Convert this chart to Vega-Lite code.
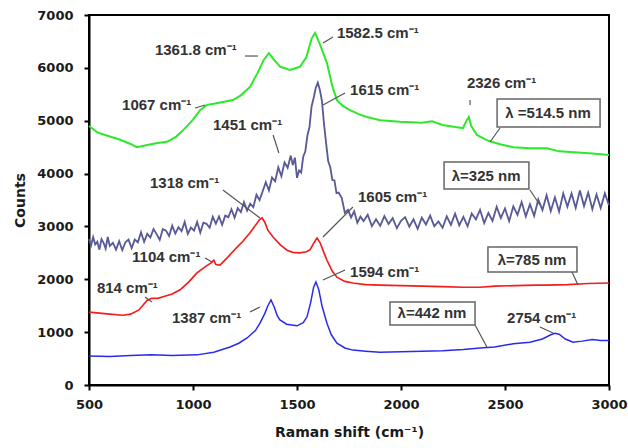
{
  "$schema": "https://vega.github.io/schema/vega-lite/v6.json",
  "width": 520,
  "height": 370,
  "autosize": {"type": "none"},
  "padding": {"left": 89, "top": 15, "right": 19, "bottom": 63},
  "background": "white",
  "config": {
    "view": {"stroke": "black", "strokeWidth": 2},
    "axis": {
      "grid": false,
      "domainColor": "black",
      "domainWidth": 2,
      "tickColor": "black",
      "tickWidth": 2,
      "tickSize": 5,
      "labelFont": "DejaVu Sans",
      "labelFontWeight": "bold",
      "labelFontSize": 13,
      "labelColor": "#1a1a1a",
      "titleFont": "DejaVu Sans",
      "titleFontWeight": "bold",
      "titleFontSize": 14,
      "titleColor": "#1a1a1a"
    }
  },
  "datasets": {
    "spectra": [
      {"shift": 500, "counts": 4900, "series": "514.5"},
      {"shift": 540, "counts": 4780, "series": "514.5"},
      {"shift": 600, "counts": 4700, "series": "514.5"},
      {"shift": 650, "counts": 4640, "series": "514.5"},
      {"shift": 700, "counts": 4560, "series": "514.5"},
      {"shift": 730, "counts": 4500, "series": "514.5"},
      {"shift": 780, "counts": 4540, "series": "514.5"},
      {"shift": 830, "counts": 4580, "series": "514.5"},
      {"shift": 875, "counts": 4600, "series": "514.5"},
      {"shift": 920, "counts": 4700, "series": "514.5"},
      {"shift": 960, "counts": 4850, "series": "514.5"},
      {"shift": 1000, "counts": 5020, "series": "514.5"},
      {"shift": 1034, "counts": 5200, "series": "514.5"},
      {"shift": 1067, "counts": 5300, "series": "514.5"},
      {"shift": 1100, "counts": 5320, "series": "514.5"},
      {"shift": 1150, "counts": 5360, "series": "514.5"},
      {"shift": 1192, "counts": 5390, "series": "514.5"},
      {"shift": 1230, "counts": 5480, "series": "514.5"},
      {"shift": 1274, "counts": 5640, "series": "514.5"},
      {"shift": 1310, "counts": 5900, "series": "514.5"},
      {"shift": 1340, "counts": 6150, "series": "514.5"},
      {"shift": 1365, "counts": 6280, "series": "514.5"},
      {"shift": 1390, "counts": 6150, "series": "514.5"},
      {"shift": 1420, "counts": 6020, "series": "514.5"},
      {"shift": 1466, "counts": 5960, "series": "514.5"},
      {"shift": 1514, "counts": 6020, "series": "514.5"},
      {"shift": 1545, "counts": 6200, "series": "514.5"},
      {"shift": 1570, "counts": 6550, "series": "514.5"},
      {"shift": 1587, "counts": 6660, "series": "514.5"},
      {"shift": 1610, "counts": 6450, "series": "514.5"},
      {"shift": 1644, "counts": 6090, "series": "514.5"},
      {"shift": 1670, "counts": 5650, "series": "514.5"},
      {"shift": 1692, "counts": 5390, "series": "514.5"},
      {"shift": 1720, "counts": 5280, "series": "514.5"},
      {"shift": 1755, "counts": 5200, "series": "514.5"},
      {"shift": 1800, "counts": 5120, "series": "514.5"},
      {"shift": 1836, "counts": 5070, "series": "514.5"},
      {"shift": 1900, "counts": 5010, "series": "514.5"},
      {"shift": 1995, "counts": 4980, "series": "514.5"},
      {"shift": 2100, "counts": 4960, "series": "514.5"},
      {"shift": 2150, "counts": 4990, "series": "514.5"},
      {"shift": 2200, "counts": 4920, "series": "514.5"},
      {"shift": 2260, "counts": 4880, "series": "514.5"},
      {"shift": 2298, "counts": 4860, "series": "514.5"},
      {"shift": 2315, "counts": 5000, "series": "514.5"},
      {"shift": 2326, "counts": 5070, "series": "514.5"},
      {"shift": 2338, "counts": 4900, "series": "514.5"},
      {"shift": 2365, "counts": 4730, "series": "514.5"},
      {"shift": 2420, "counts": 4620, "series": "514.5"},
      {"shift": 2480, "counts": 4550, "series": "514.5"},
      {"shift": 2539, "counts": 4500, "series": "514.5"},
      {"shift": 2620, "counts": 4480, "series": "514.5"},
      {"shift": 2702, "counts": 4480, "series": "514.5"},
      {"shift": 2760, "counts": 4420, "series": "514.5"},
      {"shift": 2850, "counts": 4400, "series": "514.5"},
      {"shift": 2920, "counts": 4380, "series": "514.5"},
      {"shift": 3000, "counts": 4350, "series": "514.5"},

      {"shift": 500, "counts": 2760, "series": "325"},
      {"shift": 510, "counts": 2640, "series": "325"},
      {"shift": 520, "counts": 2800, "series": "325"},
      {"shift": 530, "counts": 2660, "series": "325"},
      {"shift": 540, "counts": 2710, "series": "325"},
      {"shift": 550, "counts": 2560, "series": "325"},
      {"shift": 560, "counts": 2760, "series": "325"},
      {"shift": 570, "counts": 2690, "series": "325"},
      {"shift": 580, "counts": 2580, "series": "325"},
      {"shift": 590, "counts": 2800, "series": "325"},
      {"shift": 600, "counts": 2630, "series": "325"},
      {"shift": 615, "counts": 2690, "series": "325"},
      {"shift": 630, "counts": 2560, "series": "325"},
      {"shift": 645, "counts": 2720, "series": "325"},
      {"shift": 660, "counts": 2550, "series": "325"},
      {"shift": 675, "counts": 2700, "series": "325"},
      {"shift": 690, "counts": 2750, "series": "325"},
      {"shift": 705, "counts": 2590, "series": "325"},
      {"shift": 720, "counts": 2750, "series": "325"},
      {"shift": 735, "counts": 2700, "series": "325"},
      {"shift": 750, "counts": 2890, "series": "325"},
      {"shift": 765, "counts": 2710, "series": "325"},
      {"shift": 780, "counts": 2860, "series": "325"},
      {"shift": 795, "counts": 2790, "series": "325"},
      {"shift": 810, "counts": 2950, "series": "325"},
      {"shift": 825, "counts": 2855, "series": "325"},
      {"shift": 840, "counts": 2745, "series": "325"},
      {"shift": 855, "counts": 2950, "series": "325"},
      {"shift": 870, "counts": 2920, "series": "325"},
      {"shift": 885, "counts": 2820, "series": "325"},
      {"shift": 900, "counts": 3015, "series": "325"},
      {"shift": 915, "counts": 2865, "series": "325"},
      {"shift": 930, "counts": 2985, "series": "325"},
      {"shift": 945, "counts": 2910, "series": "325"},
      {"shift": 960, "counts": 3085, "series": "325"},
      {"shift": 975, "counts": 2860, "series": "325"},
      {"shift": 990, "counts": 2980, "series": "325"},
      {"shift": 1005, "counts": 2920, "series": "325"},
      {"shift": 1020, "counts": 3085, "series": "325"},
      {"shift": 1035, "counts": 2885, "series": "325"},
      {"shift": 1050, "counts": 3070, "series": "325"},
      {"shift": 1065, "counts": 3050, "series": "325"},
      {"shift": 1080, "counts": 2975, "series": "325"},
      {"shift": 1095, "counts": 3185, "series": "325"},
      {"shift": 1110, "counts": 3050, "series": "325"},
      {"shift": 1125, "counts": 3190, "series": "325"},
      {"shift": 1140, "counts": 3030, "series": "325"},
      {"shift": 1155, "counts": 3205, "series": "325"},
      {"shift": 1170, "counts": 3175, "series": "325"},
      {"shift": 1185, "counts": 3325, "series": "325"},
      {"shift": 1200, "counts": 3165, "series": "325"},
      {"shift": 1215, "counts": 3345, "series": "325"},
      {"shift": 1230, "counts": 3270, "series": "325"},
      {"shift": 1245, "counts": 3460, "series": "325"},
      {"shift": 1260, "counts": 3300, "series": "325"},
      {"shift": 1275, "counts": 3430, "series": "325"},
      {"shift": 1290, "counts": 3365, "series": "325"},
      {"shift": 1305, "counts": 3600, "series": "325"},
      {"shift": 1320, "counts": 3500, "series": "325"},
      {"shift": 1335, "counts": 3665, "series": "325"},
      {"shift": 1350, "counts": 3835, "series": "325"},
      {"shift": 1365, "counts": 3680, "series": "325"},
      {"shift": 1380, "counts": 3925, "series": "325"},
      {"shift": 1395, "counts": 3855, "series": "325"},
      {"shift": 1410, "counts": 4120, "series": "325"},
      {"shift": 1425, "counts": 3950, "series": "325"},
      {"shift": 1440, "counts": 4210, "series": "325"},
      {"shift": 1455, "counts": 4110, "series": "325"},
      {"shift": 1470, "counts": 4340, "series": "325"},
      {"shift": 1480, "counts": 4160, "series": "325"},
      {"shift": 1490, "counts": 4300, "series": "325"},
      {"shift": 1500, "counts": 3920, "series": "325"},
      {"shift": 1510, "counts": 4060, "series": "325"},
      {"shift": 1520, "counts": 4020, "series": "325"},
      {"shift": 1530, "counts": 4320, "series": "325"},
      {"shift": 1540, "counts": 4420, "series": "325"},
      {"shift": 1550, "counts": 4720, "series": "325"},
      {"shift": 1560, "counts": 4880, "series": "325"},
      {"shift": 1570, "counts": 5270, "series": "325"},
      {"shift": 1580, "counts": 5430, "series": "325"},
      {"shift": 1590, "counts": 5620, "series": "325"},
      {"shift": 1600, "counts": 5720, "series": "325"},
      {"shift": 1610, "counts": 5580, "series": "325"},
      {"shift": 1620, "counts": 5370, "series": "325"},
      {"shift": 1630, "counts": 4930, "series": "325"},
      {"shift": 1640, "counts": 4570, "series": "325"},
      {"shift": 1650, "counts": 4230, "series": "325"},
      {"shift": 1660, "counts": 4120, "series": "325"},
      {"shift": 1670, "counts": 3880, "series": "325"},
      {"shift": 1680, "counts": 3870, "series": "325"},
      {"shift": 1690, "counts": 3630, "series": "325"},
      {"shift": 1700, "counts": 3640, "series": "325"},
      {"shift": 1715, "counts": 3540, "series": "325"},
      {"shift": 1730, "counts": 3260, "series": "325"},
      {"shift": 1745, "counts": 3315, "series": "325"},
      {"shift": 1760, "counts": 3170, "series": "325"},
      {"shift": 1775, "counts": 3285, "series": "325"},
      {"shift": 1790, "counts": 3070, "series": "325"},
      {"shift": 1805, "counts": 3185, "series": "325"},
      {"shift": 1820, "counts": 3100, "series": "325"},
      {"shift": 1840, "counts": 3220, "series": "325"},
      {"shift": 1860, "counts": 3005, "series": "325"},
      {"shift": 1880, "counts": 3135, "series": "325"},
      {"shift": 1900, "counts": 3010, "series": "325"},
      {"shift": 1920, "counts": 3195, "series": "325"},
      {"shift": 1940, "counts": 3045, "series": "325"},
      {"shift": 1960, "counts": 3155, "series": "325"},
      {"shift": 1980, "counts": 2965, "series": "325"},
      {"shift": 2000, "counts": 3105, "series": "325"},
      {"shift": 2020, "counts": 3175, "series": "325"},
      {"shift": 2040, "counts": 2995, "series": "325"},
      {"shift": 2060, "counts": 3135, "series": "325"},
      {"shift": 2080, "counts": 2955, "series": "325"},
      {"shift": 2100, "counts": 3165, "series": "325"},
      {"shift": 2120, "counts": 3035, "series": "325"},
      {"shift": 2140, "counts": 3205, "series": "325"},
      {"shift": 2160, "counts": 3005, "series": "325"},
      {"shift": 2180, "counts": 3095, "series": "325"},
      {"shift": 2200, "counts": 2975, "series": "325"},
      {"shift": 2220, "counts": 3190, "series": "325"},
      {"shift": 2240, "counts": 3030, "series": "325"},
      {"shift": 2260, "counts": 3240, "series": "325"},
      {"shift": 2280, "counts": 3020, "series": "325"},
      {"shift": 2300, "counts": 3180, "series": "325"},
      {"shift": 2320, "counts": 3005, "series": "325"},
      {"shift": 2340, "counts": 3245, "series": "325"},
      {"shift": 2360, "counts": 3135, "series": "325"},
      {"shift": 2380, "counts": 3315, "series": "325"},
      {"shift": 2400, "counts": 3065, "series": "325"},
      {"shift": 2420, "counts": 3255, "series": "325"},
      {"shift": 2440, "counts": 3105, "series": "325"},
      {"shift": 2460, "counts": 3370, "series": "325"},
      {"shift": 2480, "counts": 3160, "series": "325"},
      {"shift": 2500, "counts": 3340, "series": "325"},
      {"shift": 2520, "counts": 3100, "series": "325"},
      {"shift": 2540, "counts": 3380, "series": "325"},
      {"shift": 2560, "counts": 3220, "series": "325"},
      {"shift": 2580, "counts": 3460, "series": "325"},
      {"shift": 2600, "counts": 3190, "series": "325"},
      {"shift": 2620, "counts": 3420, "series": "325"},
      {"shift": 2640, "counts": 3200, "series": "325"},
      {"shift": 2660, "counts": 3510, "series": "325"},
      {"shift": 2680, "counts": 3310, "series": "325"},
      {"shift": 2700, "counts": 3590, "series": "325"},
      {"shift": 2720, "counts": 3290, "series": "325"},
      {"shift": 2740, "counts": 3550, "series": "325"},
      {"shift": 2760, "counts": 3280, "series": "325"},
      {"shift": 2780, "counts": 3625, "series": "325"},
      {"shift": 2800, "counts": 3375, "series": "325"},
      {"shift": 2820, "counts": 3625, "series": "325"},
      {"shift": 2840, "counts": 3350, "series": "325"},
      {"shift": 2860, "counts": 3680, "series": "325"},
      {"shift": 2880, "counts": 3385, "series": "325"},
      {"shift": 2900, "counts": 3640, "series": "325"},
      {"shift": 2920, "counts": 3325, "series": "325"},
      {"shift": 2940, "counts": 3605, "series": "325"},
      {"shift": 2960, "counts": 3350, "series": "325"},
      {"shift": 2980, "counts": 3625, "series": "325"},
      {"shift": 3000, "counts": 3400, "series": "325"},

      {"shift": 500, "counts": 1380, "series": "785"},
      {"shift": 550, "counts": 1360, "series": "785"},
      {"shift": 600, "counts": 1340, "series": "785"},
      {"shift": 663, "counts": 1320, "series": "785"},
      {"shift": 700, "counts": 1340, "series": "785"},
      {"shift": 740, "counts": 1420, "series": "785"},
      {"shift": 779, "counts": 1600, "series": "785"},
      {"shift": 800, "counts": 1640, "series": "785"},
      {"shift": 830, "counts": 1640, "series": "785"},
      {"shift": 856, "counts": 1670, "series": "785"},
      {"shift": 900, "counts": 1720, "series": "785"},
      {"shift": 938, "counts": 1800, "series": "785"},
      {"shift": 980, "counts": 1950, "series": "785"},
      {"shift": 1019, "counts": 2120, "series": "785"},
      {"shift": 1060, "counts": 2240, "series": "785"},
      {"shift": 1090, "counts": 2320, "series": "785"},
      {"shift": 1100, "counts": 2360, "series": "785"},
      {"shift": 1110, "counts": 2280, "series": "785"},
      {"shift": 1130, "counts": 2270, "series": "785"},
      {"shift": 1170, "counts": 2430, "series": "785"},
      {"shift": 1212, "counts": 2610, "series": "785"},
      {"shift": 1240, "counts": 2720, "series": "785"},
      {"shift": 1274, "counts": 2880, "series": "785"},
      {"shift": 1300, "counts": 3020, "series": "785"},
      {"shift": 1320, "counts": 3130, "series": "785"},
      {"shift": 1332, "counts": 3160, "series": "785"},
      {"shift": 1345, "counts": 3080, "series": "785"},
      {"shift": 1360, "counts": 2930, "series": "785"},
      {"shift": 1385, "counts": 2800, "series": "785"},
      {"shift": 1420, "counts": 2650, "series": "785"},
      {"shift": 1452, "counts": 2550, "series": "785"},
      {"shift": 1480, "counts": 2510, "series": "785"},
      {"shift": 1514, "counts": 2500, "series": "785"},
      {"shift": 1545, "counts": 2520, "series": "785"},
      {"shift": 1563, "counts": 2560, "series": "785"},
      {"shift": 1580, "counts": 2680, "series": "785"},
      {"shift": 1596, "counts": 2780, "series": "785"},
      {"shift": 1610, "counts": 2700, "series": "785"},
      {"shift": 1630, "counts": 2500, "series": "785"},
      {"shift": 1644, "counts": 2360, "series": "785"},
      {"shift": 1670, "counts": 2150, "series": "785"},
      {"shift": 1692, "counts": 2040, "series": "785"},
      {"shift": 1730, "counts": 1960, "series": "785"},
      {"shift": 1769, "counts": 1930, "series": "785"},
      {"shift": 1830, "counts": 1900, "series": "785"},
      {"shift": 1899, "counts": 1890, "series": "785"},
      {"shift": 2000, "counts": 1880, "series": "785"},
      {"shift": 2100, "counts": 1870, "series": "785"},
      {"shift": 2200, "counts": 1860, "series": "785"},
      {"shift": 2300, "counts": 1850, "series": "785"},
      {"shift": 2380, "counts": 1850, "series": "785"},
      {"shift": 2450, "counts": 1870, "series": "785"},
      {"shift": 2550, "counts": 1880, "series": "785"},
      {"shift": 2650, "counts": 1890, "series": "785"},
      {"shift": 2702, "counts": 1890, "series": "785"},
      {"shift": 2800, "counts": 1900, "series": "785"},
      {"shift": 2900, "counts": 1920, "series": "785"},
      {"shift": 3000, "counts": 1930, "series": "785"},

      {"shift": 500, "counts": 550, "series": "442"},
      {"shift": 600, "counts": 540, "series": "442"},
      {"shift": 700, "counts": 560, "series": "442"},
      {"shift": 800, "counts": 570, "series": "442"},
      {"shift": 900, "counts": 560, "series": "442"},
      {"shift": 1019, "counts": 570, "series": "442"},
      {"shift": 1100, "counts": 620, "series": "442"},
      {"shift": 1178, "counts": 720, "series": "442"},
      {"shift": 1220, "counts": 790, "series": "442"},
      {"shift": 1260, "counts": 890, "series": "442"},
      {"shift": 1300, "counts": 1030, "series": "442"},
      {"shift": 1322, "counts": 1170, "series": "442"},
      {"shift": 1345, "counts": 1350, "series": "442"},
      {"shift": 1360, "counts": 1500, "series": "442"},
      {"shift": 1375, "counts": 1610, "series": "442"},
      {"shift": 1390, "counts": 1480, "series": "442"},
      {"shift": 1405, "counts": 1310, "series": "442"},
      {"shift": 1418, "counts": 1230, "series": "442"},
      {"shift": 1450, "counts": 1150, "series": "442"},
      {"shift": 1500, "counts": 1120, "series": "442"},
      {"shift": 1530, "counts": 1180, "series": "442"},
      {"shift": 1548, "counts": 1290, "series": "442"},
      {"shift": 1565, "counts": 1550, "series": "442"},
      {"shift": 1580, "counts": 1850, "series": "442"},
      {"shift": 1591, "counts": 1950, "series": "442"},
      {"shift": 1605, "counts": 1800, "series": "442"},
      {"shift": 1620, "counts": 1500, "series": "442"},
      {"shift": 1644, "counts": 1170, "series": "442"},
      {"shift": 1665, "counts": 950, "series": "442"},
      {"shift": 1692, "counts": 790, "series": "442"},
      {"shift": 1730, "counts": 700, "series": "442"},
      {"shift": 1769, "counts": 660, "series": "442"},
      {"shift": 1830, "counts": 640, "series": "442"},
      {"shift": 1899, "counts": 620, "series": "442"},
      {"shift": 2000, "counts": 630, "series": "442"},
      {"shift": 2100, "counts": 640, "series": "442"},
      {"shift": 2200, "counts": 650, "series": "442"},
      {"shift": 2300, "counts": 670, "series": "442"},
      {"shift": 2380, "counts": 700, "series": "442"},
      {"shift": 2450, "counts": 720, "series": "442"},
      {"shift": 2540, "counts": 780, "series": "442"},
      {"shift": 2620, "counts": 810, "series": "442"},
      {"shift": 2680, "counts": 870, "series": "442"},
      {"shift": 2720, "counts": 950, "series": "442"},
      {"shift": 2740, "counts": 980, "series": "442"},
      {"shift": 2760, "counts": 960, "series": "442"},
      {"shift": 2790, "counts": 870, "series": "442"},
      {"shift": 2827, "counts": 810, "series": "442"},
      {"shift": 2870, "counts": 830, "series": "442"},
      {"shift": 2920, "counts": 860, "series": "442"},
      {"shift": 2960, "counts": 840, "series": "442"},
      {"shift": 3000, "counts": 840, "series": "442"}
    ],
    "peaks": [
      {"x": 817, "y": 6338, "text": "1361.8  cm⁻¹"},
      {"x": 1692, "y": 6660, "text": "1582.5 cm⁻¹"},
      {"x": 659, "y": 5297, "text": "1067 cm⁻¹"},
      {"x": 1755, "y": 5581, "text": "1615 cm⁻¹"},
      {"x": 1096, "y": 4919, "text": "1451 cm⁻¹"},
      {"x": 2317, "y": 5714, "text": "2326 cm⁻¹"},
      {"x": 793, "y": 3822, "text": "1318 cm⁻¹"},
      {"x": 1793, "y": 3557, "text": "1605 cm⁻¹"},
      {"x": 707, "y": 2422, "text": "1104 cm⁻¹"},
      {"x": 538, "y": 1835, "text": "814 cm⁻¹"},
      {"x": 899, "y": 1268, "text": "1387 cm⁻¹"},
      {"x": 1755, "y": 2138, "text": "1594 cm⁻¹"},
      {"x": 2510, "y": 1268, "text": "2754 cm⁻¹"}
    ],
    "boxes": [
      {"x": 2462, "x2": 2957, "y": 5411, "y2": 4881, "cx": 2707, "cy": 5146, "text": "λ =514.5 nm"},
      {"x": 2207, "x2": 2615, "y": 4219, "y2": 3708, "cx": 2409, "cy": 3963, "text": "λ=325 nm"},
      {"x": 2418, "x2": 2846, "y": 2611, "y2": 2138, "cx": 2630, "cy": 2374, "text": "λ=785 nm"},
      {"x": 1947, "x2": 2356, "y": 1570, "y2": 1135, "cx": 2149, "cy": 1353, "text": "λ=442 nm"}
    ],
    "leaders": [
      {"x": 1250, "y": 6224, "x2": 1312, "y2": 6224},
      {"x": 1625, "y": 6470, "x2": 1673, "y2": 6584},
      {"x": 1010, "y": 5241, "x2": 1058, "y2": 5297},
      {"x": 1625, "y": 5297, "x2": 1731, "y2": 5524},
      {"x": 1385, "y": 4730, "x2": 1413, "y2": 4389},
      {"x": 2332, "y": 5392, "x2": 2332, "y2": 5297},
      {"x": 2476, "y": 4862, "x2": 2428, "y2": 4597},
      {"x": 2620, "y": 3689, "x2": 2668, "y2": 3405},
      {"x": 1144, "y": 3689, "x2": 1322, "y2": 3159},
      {"x": 1625, "y": 2800, "x2": 1769, "y2": 3368},
      {"x": 1058, "y": 2403, "x2": 1091, "y2": 2327},
      {"x": 769, "y": 1665, "x2": 803, "y2": 1570},
      {"x": 1274, "y": 1381, "x2": 1322, "y2": 1476},
      {"x": 1625, "y": 1986, "x2": 1731, "y2": 2176},
      {"x": 2822, "y": 2138, "x2": 2851, "y2": 1892},
      {"x": 2356, "y": 1135, "x2": 2413, "y2": 719},
      {"x": 2668, "y": 1097, "x2": 2731, "y2": 984}
    ]
  },
  "layer": [
    {
      "data": {"name": "spectra"},
      "mark": {"type": "line"},
      "encoding": {
        "x": {
          "field": "shift", "type": "quantitative",
          "scale": {"domain": [500, 3000], "nice": false},
          "axis": {"values": [500, 1000, 1500, 2000, 2500, 3000], "format": "d", "title": "Raman shift (cm⁻¹)", "labelPadding": 8, "titlePadding": 14, "labelFlush": false}
        },
        "y": {
          "field": "counts", "type": "quantitative",
          "scale": {"domain": [0, 7000], "nice": false},
          "axis": {"values": [0, 1000, 2000, 3000, 4000, 5000, 6000, 7000], "format": "d", "title": "Counts", "labelPadding": 11, "titlePadding": 9, "labelFlush": false}
        },
        "color": {
          "field": "series", "type": "nominal",
          "scale": {"domain": ["514.5", "325", "785", "442"], "range": ["#2ee82a", "#5a5a96", "#f51c1c", "#2a2aee"]},
          "legend": null
        },
        "strokeWidth": {
          "field": "series", "type": "nominal",
          "scale": {"domain": ["514.5", "325", "785", "442"], "range": [2, 1.5, 2, 2]},
          "legend": null
        },
        "order": {"field": "shift", "type": "quantitative"}
      }
    },
    {
      "data": {"name": "leaders"},
      "mark": {"type": "rule", "color": "#555555", "strokeWidth": 1.2},
      "encoding": {
        "x": {"field": "x", "type": "quantitative"},
        "y": {"field": "y", "type": "quantitative"},
        "x2": {"field": "x2"},
        "y2": {"field": "y2"}
      }
    },
    {
      "data": {"name": "boxes"},
      "mark": {"type": "rect", "fill": "white", "stroke": "#666666", "strokeWidth": 1.5},
      "encoding": {
        "x": {"field": "x", "type": "quantitative"},
        "x2": {"field": "x2"},
        "y": {"field": "y", "type": "quantitative"},
        "y2": {"field": "y2"}
      }
    },
    {
      "data": {"name": "boxes"},
      "mark": {"type": "text", "font": "Liberation Sans", "fontWeight": "bold", "fontSize": 15, "color": "#333333", "align": "center", "baseline": "middle"},
      "encoding": {
        "x": {"field": "cx", "type": "quantitative"},
        "y": {"field": "cy", "type": "quantitative"},
        "text": {"field": "text"}
      }
    },
    {
      "data": {"name": "peaks"},
      "mark": {"type": "text", "font": "Liberation Sans", "fontWeight": "bold", "fontSize": 15, "color": "#333333", "align": "left", "baseline": "middle"},
      "encoding": {
        "x": {"field": "x", "type": "quantitative"},
        "y": {"field": "y", "type": "quantitative"},
        "text": {"field": "text"}
      }
    }
  ]
}
